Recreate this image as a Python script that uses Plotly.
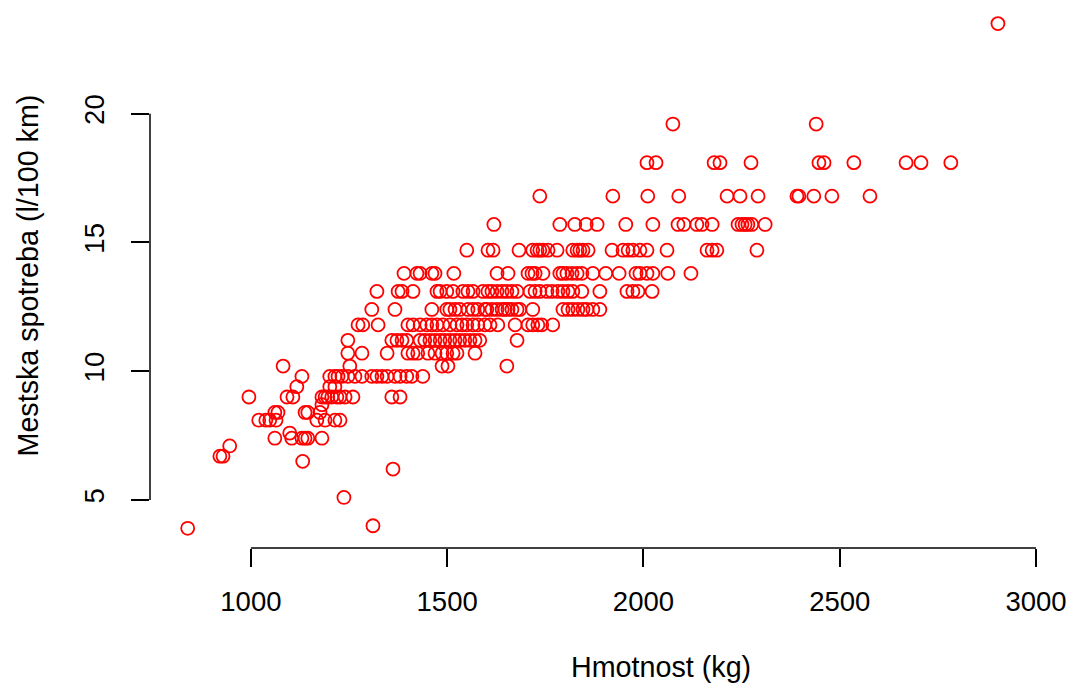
import plotly.graph_objects as go

# City fuel consumption levels (l/100 km) and car weights (kg)
w_23_5 = [2903]
w_19_6 = [2075, 2440]
w_18_1 = [2009, 2032, 2180, 2195, 2274, 2447, 2460, 2536, 2669, 2707, 2783]
w_16_8 = [1736, 1922, 2011, 2090, 2213, 2246, 2292, 2391, 2396, 2434, 2480, 2577]
w_15_7 = [1619, 1787, 1825, 1854, 1882, 1955, 2024, 2088, 2103, 2136, 2149, 2175,
          2241, 2251, 2259, 2266, 2276, 2310]
w_14_7 = [1550, 1604, 1617, 1683, 1718, 1729, 1736, 1744, 1757, 1780, 1820, 1831,
          1838, 1846, 1859, 1920, 1948, 1961, 1973, 1991, 2009, 2060, 2162, 2175,
          2187, 2289]
w_13_8 = [1390, 1423, 1431, 1461, 1469, 1517, 1627, 1655, 1706, 1716, 1724, 1744,
          1787, 1795, 1805, 1818, 1831, 1843, 1871, 1904, 1938, 1981, 1991, 2009,
          2024, 2062, 2121]
w_13_1 = [1321, 1375, 1385, 1413, 1474, 1482, 1499, 1515, 1540, 1553, 1566, 1591,
          1604, 1614, 1627, 1640, 1652, 1665, 1678, 1711, 1724, 1736, 1754, 1767,
          1782, 1795, 1808, 1820, 1843, 1889, 1958, 1973, 1986, 2022]
w_12_4 = [1308, 1367, 1461, 1499, 1507, 1520, 1532, 1553, 1566, 1578, 1596, 1601,
          1614, 1627, 1640, 1647, 1655, 1665, 1678, 1685, 1718, 1795, 1808, 1820,
          1833, 1846, 1856, 1871, 1889]
w_11_8 = [1273, 1285, 1324, 1400, 1413, 1431, 1448, 1461, 1474, 1489, 1507, 1525,
          1538, 1550, 1566, 1578, 1596, 1609, 1629, 1673, 1706, 1718, 1731, 1741, 1769]
w_11_2 = [1247, 1359, 1372, 1385, 1397, 1431, 1443, 1456, 1469, 1482, 1494, 1507,
          1520, 1532, 1545, 1558, 1571, 1583, 1678]
w_10_7 = [1247, 1283, 1347, 1400, 1413, 1425, 1451, 1469, 1487, 1499, 1515, 1525, 1571]
w_10_2 = [1082, 1252, 1487, 1502, 1652]
w_9_8 = [1130, 1201, 1214, 1222, 1232, 1247, 1265, 1283, 1308, 1321, 1334, 1347,
         1367, 1380, 1397, 1410, 1438]
w_9_4 = [1117, 1201, 1214]
w_9_0 = [995, 1092, 1107, 1181, 1189, 1196, 1206, 1219, 1227, 1240, 1260, 1359, 1380]
w_8_7 = [1181]
w_8_4 = [1061, 1069, 1138, 1145, 1176]
w_8_1 = [1020, 1038, 1048, 1064, 1168, 1189, 1214, 1227]
w_7_6 = [1099]
w_7_4 = [1061, 1104, 1130, 1138, 1145, 1181]
w_7_1 = [946]
w_6_7 = [921, 929]
w_6_5 = [1132]
w_6_2 = [1362]
w_5_1 = [1237]
w_4_0 = [1311]
w_3_9 = [839]

rows = [(23.5, w_23_5), (19.6, w_19_6), (18.1, w_18_1), (16.8, w_16_8),
        (15.7, w_15_7), (14.7, w_14_7), (13.8, w_13_8), (13.1, w_13_1),
        (12.4, w_12_4), (11.8, w_11_8), (11.2, w_11_2), (10.7, w_10_7),
        (10.2, w_10_2), (9.8, w_9_8), (9.4, w_9_4), (9.0, w_9_0), (8.7, w_8_7),
        (8.4, w_8_4), (8.1, w_8_1), (7.6, w_7_6), (7.4, w_7_4), (7.1, w_7_1),
        (6.7, w_6_7), (6.5, w_6_5), (6.2, w_6_2), (5.1, w_5_1), (4.0, w_4_0),
        (3.9, w_3_9)]

weight_kg = [w for lvl, ws in rows for w in ws]
consumption = [lvl for lvl, ws in rows for w in ws]

x_ticks = [1000, 1500, 2000, 2500, 3000]
y_ticks = [5, 10, 15, 20]

FONT = "Liberation Sans, Arial, Helvetica, sans-serif"
FS = 27.5
FS_TITLE = 28.7

fig = go.Figure()
fig.add_trace(go.Scatter(
    x=weight_kg, y=consumption, mode="markers",
    marker=dict(symbol="circle-open", size=13, color="#ff0000",
                line=dict(width=1.8, color="#ff0000")),
    hoverinfo="x+y", showlegend=False, cliponaxis=False,
))

fig.update_layout(
    width=1073, height=687,
    margin=dict(l=150, r=3, t=3, b=139, pad=0),
    paper_bgcolor="white", plot_bgcolor="white",
    font=dict(family=FONT, size=FS, color="black"),
    xaxis=dict(range=[743, 3086.6], tickvals=x_ticks, ticktext=[str(v) for v in x_ticks],
               showgrid=False, zeroline=False, showline=False,
               ticks="outside", ticklen=18, tickwidth=1.5, tickcolor="black",
               ticklabelstandoff=11,
               tickfont=dict(family=FONT, size=FS, color="black")),
    yaxis=dict(range=[3.136, 24.30], tickvals=y_ticks, ticktext=[str(v) for v in y_ticks],
               showgrid=False, zeroline=False, showline=False,
               ticks="outside", ticklen=18, tickwidth=1.5, tickcolor="black",
               tickangle=-90, ticklabelstandoff=16,
               tickfont=dict(family=FONT, size=FS, color="black")),
    shapes=[
        dict(type="line", xref="x", yref="paper", x0=x_ticks[0], x1=x_ticks[-1],
             y0=0, y1=0, line=dict(color="black", width=1.5)),
        dict(type="line", xref="paper", yref="y", x0=0, x1=0,
             y0=y_ticks[0], y1=y_ticks[-1], line=dict(color="black", width=1.5)),
    ],
    annotations=[
        dict(text="Hmotnost (kg)", xref="paper", yref="paper", x=0.5557, y=0,
             xanchor="center", yanchor="middle", yshift=-119, showarrow=False,
             font=dict(family=FONT, size=FS_TITLE, color="black")),
        dict(text="Mestska spotreba (l/100 km)", xref="paper", yref="paper",
             x=0, y=0.5, xanchor="center", yanchor="middle", xshift=-123,
             textangle=-90, showarrow=False,
             font=dict(family=FONT, size=FS_TITLE, color="black")),
    ],
)

fig.write_html("out.html", config={"displayModeBar": False},
               post_script="document.body.style.margin='0';document.body.style.overflow='hidden';")
